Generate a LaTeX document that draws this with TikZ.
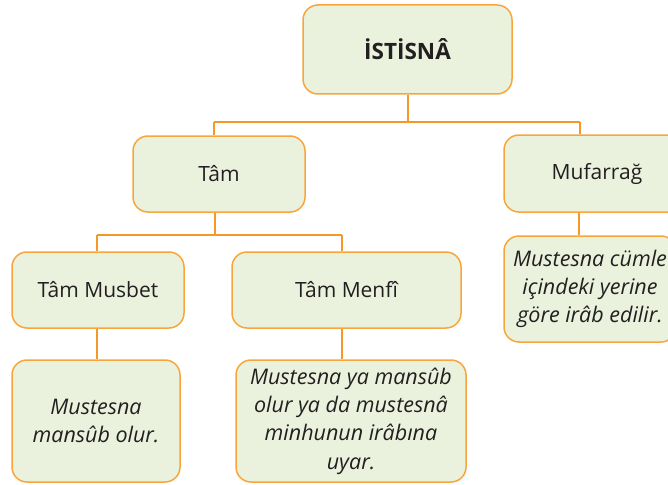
\documentclass[tikz,border=0pt]{standalone}
\usepackage{fontspec}
\setmainfont{Open Sans}
\definecolor{boxfill}{RGB}{234,242,222}
\definecolor{boxline}{RGB}{248,166,60}
\definecolor{connline}{RGB}{245,152,40}
\definecolor{txt}{RGB}{35,31,32}
\begin{document}
\begin{tikzpicture}[x=1pt,y=-1pt,
  box/.style={draw=boxline, fill=boxfill, line width=1.5pt, rounded corners=15pt, inner sep=0pt, align=center, text=txt, font=\fontsize{21}{25}\selectfont},
  descbox/.style={box, font=\fontsize{21.5}{28.3}\selectfont\itshape},
  conn/.style={draw=connline, line width=2pt}]
\useasboundingbox (0,0) rectangle (668,484);
\clip (0,0) rectangle (668,484);
\node[box, minimum width=209pt, minimum height=89pt, font=\fontsize{22.5}{26}\selectfont\bfseries] (top) at (407.5,49.5) {İSTİSNÂ};
\node[box, minimum width=172pt, minimum height=76pt] (tam) at (219,174) {Tâm};
\node[box, minimum width=186pt, minimum height=77pt] (muf) at (597,173.5) {Mufarrağ};
\node[box, minimum width=172pt, minimum height=76pt] (musbet) at (98,290) {Tâm Musbet};
\node[box, minimum width=229pt, minimum height=76pt] (menfi) at (346.5,290) {Tâm Menfî};
\node[descbox, minimum width=168pt, minimum height=122pt] (musbetd) at (96,421) {Mustesna\\mansûb olur.};
\node[descbox, minimum width=230pt, minimum height=122pt] (menfid) at (351,421) {Mustesna ya mansûb\\olur ya da mustesnâ\\minhunun irâbına\\uyar.};
\node[descbox, minimum width=172pt, minimum height=106pt] (mufd) at (590,289) {Mustesna cümle\\içindeki yerine\\göre irâb edilir.};
\coordinate (h1) at (407.5,122);
\coordinate (d1) at (214,122);
\coordinate (d2) at (580,122);
\coordinate (h2) at (215,235);
\coordinate (d3) at (97,235);
\coordinate (d4) at (342,235);
\coordinate (d5) at (579,235);
\draw[conn] (top.south) -- (h1);
\draw[conn] (d1) -- (d2);
\draw[conn] (d1) -- (d1 |- tam.north);
\draw[conn] (d2) -- (d2 |- muf.north);
\draw[conn] (tam.south -| h2) -- (h2);
\draw[conn] (d3) -- (d4);
\draw[conn] (d3) -- (d3 |- musbet.north);
\draw[conn] (d4) -- (d4 |- menfi.north);
\draw[conn] (musbet.south -| d3) -- (musbetd.north -| d3);
\draw[conn] (menfi.south -| d4) -- (menfid.north -| d4);
\draw[conn] (muf.south -| d5) -- (mufd.north -| d5);
\end{tikzpicture}
\end{document}
